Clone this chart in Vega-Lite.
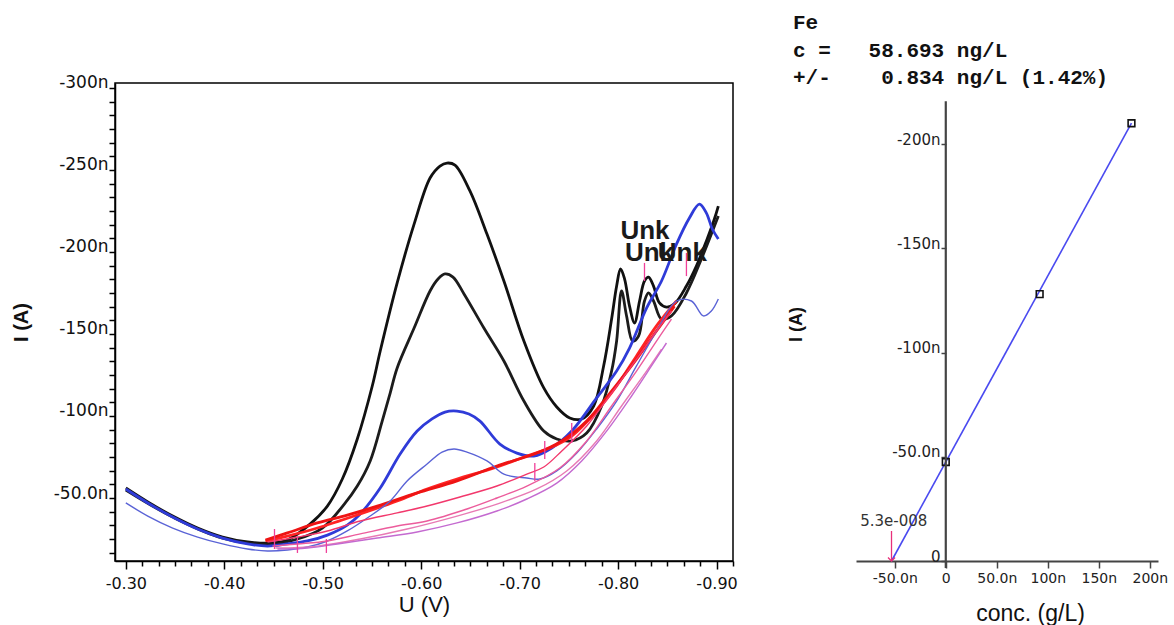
{
  "$schema": "https://vega.github.io/schema/vega-lite/v6.json",
  "background": "white",
  "padding": {"left": 10, "top": 12, "right": 0, "bottom": 0},
  "bounds": "flush",
  "spacing": 123,
  "config": {"axis": {"grid": false}, "view": {"stroke": null}},
  "datasets": {
    "cv": [
      {"s":"B1","U":-0.300,"I":-56.1},{"s":"B1","U":-0.3223,"I":-47.6},{"s":"B1","U":-0.3476,"I":-39.0},{"s":"B1","U":-0.3729,"I":-31.7},{"s":"B1","U":-0.3983,"I":-26.2},{"s":"B1","U":-0.4236,"I":-23.2},{"s":"B1","U":-0.4489,"I":-22.6},{"s":"B1","U":-0.4641,"I":-24.4},{"s":"B1","U":-0.4874,"I":-34.2},{"s":"B1","U":-0.5047,"I":-45.1},{"s":"B1","U":-0.5199,"I":-61.6},{"s":"B1","U":-0.5351,"I":-86.0},{"s":"B1","U":-0.5503,"I":-118.3},{"s":"B1","U":-0.5584,"I":-139.6},{"s":"B1","U":-0.5756,"I":-181.1},{"s":"B1","U":-0.5928,"I":-217.0},{"s":"B1","U":-0.6090,"I":-245.1},{"s":"B1","U":-0.6191,"I":-252.4},{"s":"B1","U":-0.6262,"I":-254.2},{"s":"B1","U":-0.6343,"I":-253.0},{"s":"B1","U":-0.6495,"I":-237.2},{"s":"B1","U":-0.6668,"I":-210.9},{"s":"B1","U":-0.6840,"I":-182.3},{"s":"B1","U":-0.7043,"I":-145.7},{"s":"B1","U":-0.7245,"I":-117.1},{"s":"B1","U":-0.7377,"I":-105.5},{"s":"B1","U":-0.7509,"I":-98.8},{"s":"B1","U":-0.7630,"I":-98.2},{"s":"B1","U":-0.7752,"I":-106.1},{"s":"B1","U":-0.7853,"I":-130.5},{"s":"B1","U":-0.7934,"I":-159.1},{"s":"B1","U":-0.7985,"I":-179.2},{"s":"B1","U":-0.8025,"I":-189.6},{"s":"B1","U":-0.8066,"I":-183.5},{"s":"B1","U":-0.8116,"I":-167.0},{"s":"B1","U":-0.8167,"I":-156.7},{"s":"B1","U":-0.8218,"I":-170.1},{"s":"B1","U":-0.8268,"I":-182.3},{"s":"B1","U":-0.8309,"I":-184.7},{"s":"B1","U":-0.8360,"I":-179.2},{"s":"B1","U":-0.8420,"I":-168.9},{"s":"B1","U":-0.8491,"I":-166.4},{"s":"B1","U":-0.8572,"I":-168.3},{"s":"B1","U":-0.8694,"I":-179.2},{"s":"B1","U":-0.8795,"I":-191.4},{"s":"B1","U":-0.8897,"I":-206.7},{"s":"B1","U":-0.8978,"I":-220.1},{"s":"B1","U":-0.9018,"I":-228.0},
      {"s":"B2","U":-0.300,"I":-54.9},{"s":"B2","U":-0.3476,"I":-38.4},{"s":"B2","U":-0.3983,"I":-25.6},{"s":"B2","U":-0.4489,"I":-22.0},{"s":"B2","U":-0.4743,"I":-25.0},{"s":"B2","U":-0.4996,"I":-31.7},{"s":"B2","U":-0.5219,"I":-46.3},{"s":"B2","U":-0.5351,"I":-57.3},{"s":"B2","U":-0.5482,"I":-72.6},{"s":"B2","U":-0.5604,"I":-96.9},{"s":"B2","U":-0.5685,"I":-114.0},{"s":"B2","U":-0.5756,"I":-129.3},{"s":"B2","U":-0.5928,"I":-153.6},{"s":"B2","U":-0.6090,"I":-176.2},{"s":"B2","U":-0.6171,"I":-183.5},{"s":"B2","U":-0.6242,"I":-186.6},{"s":"B2","U":-0.6323,"I":-184.7},{"s":"B2","U":-0.6435,"I":-174.4},{"s":"B2","U":-0.6637,"I":-153.6},{"s":"B2","U":-0.6840,"I":-133.5},{"s":"B2","U":-0.7043,"I":-109.1},{"s":"B2","U":-0.7245,"I":-90.8},{"s":"B2","U":-0.7377,"I":-86.0},{"s":"B2","U":-0.7529,"I":-84.8},{"s":"B2","U":-0.7681,"I":-89.6},{"s":"B2","U":-0.7833,"I":-106.1},{"s":"B2","U":-0.7934,"I":-127.4},{"s":"B2","U":-0.7985,"I":-145.7},{"s":"B2","U":-0.8035,"I":-176.2},{"s":"B2","U":-0.8086,"I":-161.0},{"s":"B2","U":-0.8147,"I":-145.7},{"s":"B2","U":-0.8208,"I":-148.8},{"s":"B2","U":-0.8268,"I":-170.1},{"s":"B2","U":-0.8309,"I":-175.0},{"s":"B2","U":-0.8360,"I":-170.1},{"s":"B2","U":-0.8441,"I":-159.1},{"s":"B2","U":-0.8542,"I":-161.0},{"s":"B2","U":-0.8694,"I":-175.0},{"s":"B2","U":-0.8846,"I":-195.7},{"s":"B2","U":-0.9018,"I":-221.9},
      {"s":"Bl1","U":-0.300,"I":-55.5},{"s":"Bl1","U":-0.3223,"I":-47.0},{"s":"Bl1","U":-0.3476,"I":-38.4},{"s":"Bl1","U":-0.3729,"I":-31.1},{"s":"Bl1","U":-0.3983,"I":-25.6},{"s":"Bl1","U":-0.4236,"I":-22.0},{"s":"Bl1","U":-0.4439,"I":-20.7},{"s":"Bl1","U":-0.4641,"I":-22.0},{"s":"Bl1","U":-0.4844,"I":-23.8},{"s":"Bl1","U":-0.5047,"I":-27.4},{"s":"Bl1","U":-0.5249,"I":-33.5},{"s":"Bl1","U":-0.5381,"I":-40.3},{"s":"Bl1","U":-0.5584,"I":-56.1},{"s":"Bl1","U":-0.5786,"I":-76.8},{"s":"Bl1","U":-0.5959,"I":-90.8},{"s":"Bl1","U":-0.6110,"I":-98.2},{"s":"Bl1","U":-0.6242,"I":-102.4},{"s":"Bl1","U":-0.6364,"I":-103.0},{"s":"Bl1","U":-0.6485,"I":-101.2},{"s":"Bl1","U":-0.6597,"I":-96.9},{"s":"Bl1","U":-0.6799,"I":-82.9},{"s":"Bl1","U":-0.6972,"I":-77.4},{"s":"Bl1","U":-0.7144,"I":-75.6},{"s":"Bl1","U":-0.7326,"I":-80.5},{"s":"Bl1","U":-0.7529,"I":-90.8},{"s":"Bl1","U":-0.7782,"I":-111.0},{"s":"Bl1","U":-0.7985,"I":-127.4},{"s":"Bl1","U":-0.8116,"I":-141.4},{"s":"Bl1","U":-0.8289,"I":-165.8},{"s":"Bl1","U":-0.8441,"I":-182.3},{"s":"Bl1","U":-0.8593,"I":-204.8},{"s":"Bl1","U":-0.8724,"I":-220.7},{"s":"Bl1","U":-0.8826,"I":-229.2},{"s":"Bl1","U":-0.8897,"I":-223.7},{"s":"Bl1","U":-0.8957,"I":-214.0},{"s":"Bl1","U":-0.9018,"I":-207.9},
      {"s":"R1","U":-0.4418,"I":-23.8},{"s":"R1","U":-0.4641,"I":-26.8},{"s":"R1","U":-0.4945,"I":-31.7},{"s":"R1","U":-0.5381,"I":-40.3},{"s":"R1","U":-0.5756,"I":-48.2},{"s":"R1","U":-0.6060,"I":-55.5},{"s":"R1","U":-0.6364,"I":-61.6},{"s":"R1","U":-0.6739,"I":-68.3},{"s":"R1","U":-0.7073,"I":-75.6},{"s":"R1","U":-0.7306,"I":-80.5},{"s":"R1","U":-0.7529,"I":-87.8},{"s":"R1","U":-0.7782,"I":-103.0},{"s":"R1","U":-0.7985,"I":-118.3},{"s":"R1","U":-0.8187,"I":-136.6},{"s":"R1","U":-0.8390,"I":-154.9},{"s":"R1","U":-0.8593,"I":-170.1},
      {"s":"R5","U":-0.4418,"I":-24.4},{"s":"R5","U":-0.4641,"I":-28.7},{"s":"R5","U":-0.4945,"I":-34.8},{"s":"R5","U":-0.5249,"I":-39.6},{"s":"R5","U":-0.5553,"I":-45.1},{"s":"R5","U":-0.5959,"I":-53.1},{"s":"R5","U":-0.6364,"I":-60.4},{"s":"R5","U":-0.6769,"I":-69.5},{"s":"R5","U":-0.7174,"I":-77.4},{"s":"R5","U":-0.7428,"I":-84.8},{"s":"R5","U":-0.7681,"I":-96.9},{"s":"R5","U":-0.7934,"I":-115.2},{"s":"R5","U":-0.8187,"I":-134.7},{"s":"R5","U":-0.8390,"I":-151.8},{"s":"R5","U":-0.8572,"I":-167.0},
      {"s":"Bl2","U":-0.300,"I":-47.0},{"s":"Bl2","U":-0.3223,"I":-39.0},{"s":"Bl2","U":-0.3476,"I":-31.7},{"s":"Bl2","U":-0.3729,"I":-26.2},{"s":"Bl2","U":-0.3983,"I":-22.0},{"s":"Bl2","U":-0.4236,"I":-18.9},{"s":"Bl2","U":-0.4439,"I":-17.7},{"s":"Bl2","U":-0.4641,"I":-18.3},{"s":"Bl2","U":-0.4844,"I":-20.1},{"s":"Bl2","U":-0.5047,"I":-23.8},{"s":"Bl2","U":-0.5249,"I":-29.9},{"s":"Bl2","U":-0.5452,"I":-37.8},{"s":"Bl2","U":-0.5685,"I":-48.2},{"s":"Bl2","U":-0.5857,"I":-60.4},{"s":"Bl2","U":-0.6060,"I":-70.7},{"s":"Bl2","U":-0.6212,"I":-78.0},{"s":"Bl2","U":-0.6333,"I":-79.9},{"s":"Bl2","U":-0.6465,"I":-78.0},{"s":"Bl2","U":-0.6668,"I":-72.6},{"s":"Bl2","U":-0.6840,"I":-64.6},{"s":"Bl2","U":-0.7073,"I":-62.2},{"s":"Bl2","U":-0.7205,"I":-61.6},{"s":"Bl2","U":-0.7377,"I":-66.5},{"s":"Bl2","U":-0.7580,"I":-77.4},{"s":"Bl2","U":-0.7782,"I":-92.1},{"s":"Bl2","U":-0.7985,"I":-109.1},{"s":"Bl2","U":-0.8187,"I":-130.5},{"s":"Bl2","U":-0.8390,"I":-151.8},{"s":"Bl2","U":-0.8593,"I":-170.1},{"s":"Bl2","U":-0.8745,"I":-170.1},{"s":"Bl2","U":-0.8866,"I":-161.0},{"s":"Bl2","U":-0.8947,"I":-164.0},{"s":"Bl2","U":-0.9018,"I":-171.3},
      {"s":"R2","U":-0.4439,"I":-23.2},{"s":"R2","U":-0.4743,"I":-26.2},{"s":"R2","U":-0.5047,"I":-29.9},{"s":"R2","U":-0.5381,"I":-36.0},{"s":"R2","U":-0.5756,"I":-40.9},{"s":"R2","U":-0.6060,"I":-45.1},{"s":"R2","U":-0.6394,"I":-50.6},{"s":"R2","U":-0.6769,"I":-57.3},{"s":"R2","U":-0.7073,"I":-64.6},{"s":"R2","U":-0.7245,"I":-68.9},{"s":"R2","U":-0.7428,"I":-78.7},{"s":"R2","U":-0.7681,"I":-93.9},{"s":"R2","U":-0.7934,"I":-114.0},{"s":"R2","U":-0.8187,"I":-134.7},{"s":"R2","U":-0.8390,"I":-151.8},{"s":"R2","U":-0.8542,"I":-164.0},
      {"s":"R3","U":-0.4489,"I":-20.7},{"s":"R3","U":-0.4743,"I":-22.0},{"s":"R3","U":-0.5047,"I":-23.8},{"s":"R3","U":-0.5381,"I":-28.1},{"s":"R3","U":-0.5756,"I":-32.9},{"s":"R3","U":-0.6060,"I":-36.0},{"s":"R3","U":-0.6465,"I":-43.3},{"s":"R3","U":-0.6769,"I":-50.0},{"s":"R3","U":-0.7073,"I":-57.3},{"s":"R3","U":-0.7407,"I":-68.3},{"s":"R3","U":-0.7681,"I":-84.8},{"s":"R3","U":-0.7934,"I":-106.1},{"s":"R3","U":-0.8187,"I":-127.4},{"s":"R3","U":-0.8390,"I":-145.7},{"s":"R3","U":-0.8542,"I":-159.1},
      {"s":"R6","U":-0.4520,"I":-19.5},{"s":"R6","U":-0.4945,"I":-20.7},{"s":"R6","U":-0.5381,"I":-25.0},{"s":"R6","U":-0.5857,"I":-31.1},{"s":"R6","U":-0.6364,"I":-39.0},{"s":"R6","U":-0.6769,"I":-46.3},{"s":"R6","U":-0.7174,"I":-55.5},{"s":"R6","U":-0.7478,"I":-66.5},{"s":"R6","U":-0.7782,"I":-84.8},{"s":"R6","U":-0.8035,"I":-106.1},{"s":"R6","U":-0.8289,"I":-127.4},{"s":"R6","U":-0.8441,"I":-140.8},
      {"s":"R4","U":-0.4540,"I":-18.9},{"s":"R4","U":-0.4844,"I":-19.5},{"s":"R4","U":-0.5148,"I":-22.0},{"s":"R4","U":-0.5553,"I":-25.6},{"s":"R4","U":-0.5959,"I":-29.3},{"s":"R4","U":-0.6364,"I":-34.8},{"s":"R4","U":-0.6769,"I":-42.1},{"s":"R4","U":-0.7073,"I":-49.4},{"s":"R4","U":-0.7377,"I":-59.1},{"s":"R4","U":-0.7630,"I":-72.6},{"s":"R4","U":-0.7883,"I":-90.8},{"s":"R4","U":-0.8137,"I":-112.2},{"s":"R4","U":-0.8339,"I":-130.5},{"s":"R4","U":-0.8491,"I":-144.5}
    ],
    "mk": [
      {"U":-0.4510,"I1":-31.1,"I2":-18.9},{"U":-0.4743,"I1":-26.2,"I2":-16.5},{"U":-0.5037,"I1":-25.0,"I2":-16.5},{"U":-0.7154,"I1":-71.3,"I2":-60.4},{"U":-0.7255,"I1":-84.8,"I2":-73.8},{"U":-0.7529,"I1":-95.7,"I2":-83.5},{"U":-0.8268,"I1":-193.3,"I2":-182.3},{"U":-0.8694,"I1":-199.4,"I2":-185.3}
    ],
    "unk": [
      {"U":-0.8273,"I":-212.8,"t":"Unk"},{"U":-0.8319,"I":-199.4,"t":"Unk"},{"U":-0.8653,"I":-199.4,"t":"Unk"}
    ],
    "cal": [{"c":0,"I":-47.5},{"c":92,"I":-128},{"c":182,"I":-210}],
    "fit": [{"c":-53.2,"I":0},{"c":182,"I":-210}]
  },
  "hconcat": [
    {
      "width": 618,
      "height": 478,
      "view": {"stroke": "#000", "strokeWidth": 1.5},
      "encoding": {
        "x": {"field": "U", "type": "quantitative",
          "scale": {"domain": [-0.9167, -0.289], "reverse": true, "nice": false, "zero": false},
          "axis": {
            "values": [-0.3,-0.31667,-0.33333,-0.35,-0.36667,-0.38333,-0.4,-0.41667,-0.43333,-0.45,-0.46667,-0.48333,-0.5,-0.51667,-0.53333,-0.55,-0.56667,-0.58333,-0.6,-0.61667,-0.63333,-0.65,-0.66667,-0.68333,-0.7,-0.71667,-0.73333,-0.75,-0.76667,-0.78333,-0.8,-0.81667,-0.83333,-0.85,-0.86667,-0.88333,-0.9,-0.91667],
            "labelExpr": "abs(datum.value*10 - round(datum.value*10)) < 0.001 ? replace(format(datum.value, '.2f'), '\u2212', '-') : ''",
            "tickSize": {"condition": {"test": "abs(datum.value*10 - round(datum.value*10)) < 0.001", "value": 8}, "value": 5},
            "tickColor": "#000", "tickWidth": 1.5, "domainColor": "#000", "domainWidth": 1.5,
            "labelFont": "DejaVu Sans", "labelFontSize": 16, "labelColor": "#111", "labelPadding": 6,
            "labelFlush": false, "labelOverlap": false,
            "title": "U (V)", "titleFont": "Liberation Sans", "titleFontSize": 22, "titleFontWeight": "normal", "titleColor": "#111", "titlePadding": 3
          }
        },
        "y": {"field": "I", "type": "quantitative",
          "scale": {"domain": [-303, -11.6], "reverse": true, "nice": false, "zero": false},
          "axis": {
            "values": [-300,-291.667,-283.333,-275,-266.667,-258.333,-250,-241.667,-233.333,-225,-216.667,-208.333,-200,-191.667,-183.333,-175,-166.667,-158.333,-150,-141.667,-133.333,-125,-116.667,-108.333,-100,-91.667,-83.333,-75,-66.667,-58.333,-50,-41.667,-33.333,-25,-16.667],
            "labelExpr": "abs(datum.value % 50) < 0.01 ? (datum.value == -50 ? '-50.0n' : datum.value + 'n') : ''",
            "tickSize": 6, "tickColor": "#000", "tickWidth": 1.5, "domainColor": "#000", "domainWidth": 1.5,
            "labelFont": "DejaVu Sans", "labelFontSize": 17, "labelColor": "#111", "labelPadding": 1,
            "labelBaseline": "alphabetic", "labelOverlap": false,
            "title": "I (A)", "titleFont": "Liberation Sans", "titleFontSize": 20, "titleFontWeight": "bold", "titleColor": "#111", "titlePadding": 22
          }
        }
      },
      "layer": [
        {
          "data": {"name": "cv"},
          "transform": [{"filter": {"field": "s", "oneOf": ["B1","B2","Bl1","R1","R5"]}}],
          "mark": {"type": "line", "strokeWidth": 2.8, "interpolate": "catmull-rom"},
          "encoding": {
            "detail": {"field": "s"},
            "color": {"field": "s", "type": "nominal", "legend": null,
              "scale": {"domain": ["B1","B2","Bl1","R1","R5","Bl2","R2","R3","R6","R4"],
                        "range": ["#111111","#1c1c1c","#2f3bd8","#ff2424","#ee1414","#5a63d6","#f2386c","#ec5c9c","#e87ab4","#c46ad0"]}}
          }
        },
        {
          "data": {"name": "cv"},
          "transform": [{"filter": {"field": "s", "oneOf": ["Bl2","R2","R3","R6","R4"]}}],
          "mark": {"type": "line", "strokeWidth": 1.4, "interpolate": "catmull-rom"},
          "encoding": {
            "detail": {"field": "s"},
            "color": {"field": "s", "type": "nominal", "legend": null}
          }
        },
        {
          "data": {"name": "mk"},
          "mark": {"type": "rule", "color": "#f0409a", "strokeWidth": 1.3},
          "encoding": {"y": {"field": "I1", "type": "quantitative"}, "y2": {"field": "I2"}}
        },
        {
          "data": {"name": "unk"},
          "mark": {"type": "text", "font": "Liberation Sans Narrow, Liberation Sans", "fontSize": 26, "fontWeight": "bold", "color": "#1a1a1a"},
          "encoding": {"y": {"field": "I", "type": "quantitative"}, "text": {"field": "t"}}
        }
      ]
    },
    {
      "width": 302,
      "height": 478,
      "view": {"stroke": null},
      "title": {
        "text": ["Fe", "c =\u00a0\u00a0\u00a058.693 ng/L", "+/-\u00a0\u00a0\u00a0\u00a00.834 ng/L (1.42%)"],
        "anchor": "start", "frame": "group", "dx": -63, "offset": -26, "baseline": "bottom",
        "font": "Liberation Mono", "fontSize": 21, "fontWeight": "bold", "color": "#111", "lineHeight": 27.5
      },
      "layer": [
        {
          "data": {"name": "fit"},
          "mark": {"type": "line", "color": "#4a4af0", "strokeWidth": 1.6},
          "encoding": {
            "x": {"field": "c", "type": "quantitative",
              "scale": {"domain": [-88, 208], "nice": false, "zero": false},
              "axis": {
                "values": [-50, 0, 50, 100, 150, 200],
                "labelExpr": "datum.value == 0 ? '0' : (abs(datum.value) < 100 ? datum.value + '.0n' : datum.value + 'n')",
                "tickSize": 7, "tickColor": "#444", "tickWidth": 1.5, "domainColor": "#444", "domainWidth": 2,
                "labelFont": "DejaVu Sans", "labelFontSize": 14, "labelColor": "#222", "labelPadding": 3,
                "labelFlush": false, "labelOverlap": false,
                "title": "conc. (g/L)", "titleFont": "Liberation Sans", "titleFontSize": 23, "titleFontWeight": "normal", "titleColor": "#111",
                "titleX": 174, "titleY": 59, "titleBaseline": "alphabetic"
              }
            },
            "y": {"field": "I", "type": "quantitative",
              "scale": {"domain": [-229.3, 0], "reverse": true, "nice": false, "zero": false},
              "axis": {
                "values": [-200, -150, -100, -50, 0],
                "labelExpr": "datum.value == 0 ? '0' : (datum.value == -50 ? '-50.0n' : datum.value + 'n')",
                "offset": -90, "domain": false,
                "tickSize": 5, "tickColor": "#444", "tickWidth": 1.5,
                "labelFont": "DejaVu Sans", "labelFontSize": 15, "labelColor": "#222", "labelPadding": 1,
                "labelBaseline": "alphabetic", "labelOverlap": false,
                "title": "I (A)", "titleFont": "Liberation Sans", "titleFontSize": 18, "titleFontWeight": "bold", "titleColor": "#111",
                "titleX": -141, "titleY": 241
              }
            }
          }
        },
        {
          "data": {"name": "cal"},
          "mark": {"type": "point", "shape": "square", "size": 45, "filled": false, "color": "#111", "strokeWidth": 1.6, "opacity": 1},
          "encoding": {"x": {"field": "c", "type": "quantitative"}, "y": {"field": "I", "type": "quantitative"}}
        },
        {
          "data": {"values": [{}]},
          "mark": {"type": "rule", "color": "#444", "strokeWidth": 2.2},
          "encoding": {"x": {"datum": 0}, "y": {"datum": 3.4}, "y2": {"datum": -220.6}}
        },
        {
          "data": {"values": [{}]},
          "mark": {"type": "rule", "color": "#e8307a", "strokeWidth": 1.3},
          "encoding": {"x": {"datum": -53.2}, "y": {"datum": -14.4}, "y2": {"datum": 0}}
        },
        {
          "data": {"values": [{}]},
          "mark": {"type": "point", "shape": "M-1,-1L0,0L1,-1", "size": 50, "filled": false, "color": "#e8307a", "strokeWidth": 1.3, "opacity": 1},
          "encoding": {"x": {"datum": -53.2}, "y": {"datum": 0}}
        },
        {
          "data": {"values": [{}]},
          "mark": {"type": "text", "text": "5.3e-008", "font": "DejaVu Sans", "fontSize": 15, "color": "#333"},
          "encoding": {"x": {"datum": -51}, "y": {"datum": -19.2}}
        }
      ]
    }
  ]
}
